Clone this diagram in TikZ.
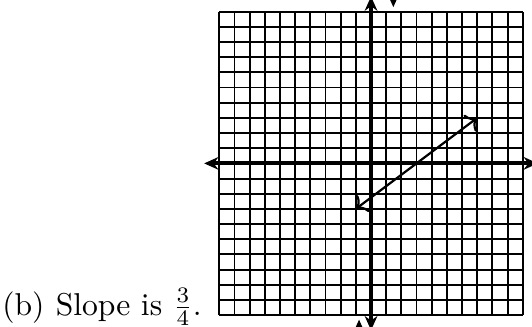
\documentclass[tikz,border=0pt]{standalone}
\usepackage{amsmath,amsfonts,amssymb}
\usetikzlibrary{arrows.meta}
\tikzset{
    gridline/.style={line width=0.6pt, step=4.8pt},
    axisline/.style={line width=1.2pt, {Stealth[length=4.5pt,width=4pt]}-{Stealth[length=4.5pt,width=4pt]}},
    stubline/.style={line width=1.2pt, -{Stealth[length=4.5pt,width=4pt]}},
    slopeline/.style={line width=0.7pt, <->}
}
\begin{document}
\begin{tikzpicture}[x=4.8pt, y=4.8pt]
    \useasboundingbox (-24.46,-10.72) rectangle (10.61,10.77);
    \draw[gridline] (-10,-10) grid (10,10);
    \coordinate (xl) at (-11,0);
    \coordinate (xr) at (11,0);
    \coordinate (yb) at (0,-11);
    \coordinate (yt) at (0,11);
    \draw[axisline] (xl) -- (xr);
    \draw[axisline] (yb) -- (yt);
    \coordinate (p1) at (-1,-3);
    \coordinate (p2) at (7,3);
    \draw[slopeline] (p1) -- (p2);
    \coordinate (s1) at (1.47,12);
    \coordinate (t1) at (1.47,10.3);
    \draw[stubline] (s1) -- (t1);
    \coordinate (s2) at (-0.79,-12);
    \coordinate (t2) at (-0.79,-10.3);
    \draw[stubline] (s2) -- (t2);
    \node[anchor=base east, inner sep=0pt] (slope) at (-11.12,-10) {(b)\hspace{3.6pt}Slope is $\frac{3}{4}$.};
\end{tikzpicture}
\end{document}
